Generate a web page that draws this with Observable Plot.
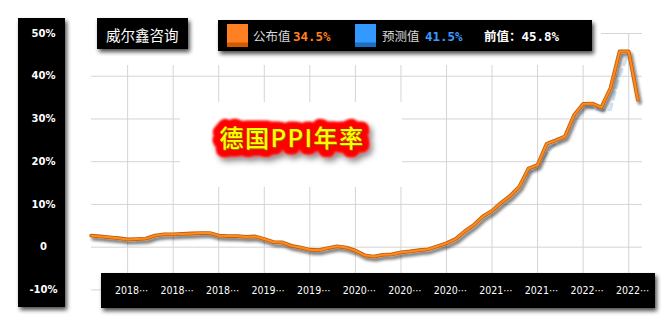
<!DOCTYPE html>
<html><head><meta charset="utf-8">
<script src="https://cdn.jsdelivr.net/npm/d3@7"></script>
<script src="https://cdn.jsdelivr.net/npm/@observablehq/plot@0.6"></script>
<style>body{margin:0;background:#fff}#chart{width:672px;height:327px}</style>
</head><body><div id="chart"></div><script>
// ---- data ----
const startMonth = "2017-10";
const actual = [2.7,2.5,2.3,
  2.1,1.8,1.9,2.0,2.7,3.0,3.0,3.1,3.2,3.3,3.3,2.7,
  2.6,2.6,2.4,2.5,1.9,1.2,1.1,0.3,-0.1,-0.6,-0.7,-0.2,
  0.2,-0.1,-0.8,-1.9,-2.2,-1.8,-1.7,-1.2,-1.0,-0.7,-0.5,0.2,
  0.9,1.9,3.7,5.2,7.2,8.5,10.4,12.0,14.2,18.4,19.2,24.2,
  25.0,25.9,30.9,33.5,33.6,32.7,37.2,45.8,45.8,34.5];
const forecast = [2.7,2.5,2.3,
  2.1,1.8,1.9,2.0,2.7,3.0,3.0,3.1,3.2,3.3,3.3,2.7,
  2.6,2.6,2.4,2.5,1.9,1.2,1.1,0.3,-0.1,-0.6,-0.7,-0.2,
  0.2,-0.1,-0.8,-1.9,-2.2,-1.8,-1.7,-1.2,-1.0,-0.7,-0.5,0.2,
  0.9,1.9,3.7,5.2,7.2,8.5,10.4,12.0,14.2,17.6,18.8,22.0,
  24.3,25.6,30.5,33.3,32.6,32.0,32.2,40.0,45.5];
const yTicks = [-10,0,10,20,30,40,50];
const xTickMonths = ["2018-02","2018-07","2018-12","2019-05","2019-10","2020-03","2020-08","2021-01","2021-06","2021-11","2022-04","2022-09"];
const xTickLabels = ["2018⋯","2018⋯","2018⋯","2019⋯","2019⋯","2020⋯","2020⋯","2020⋯","2021⋯","2021⋯","2022⋯","2022⋯"];
const legendNames = ["公布值","预测值"];
const legendValues = [34.5, 41.5];
const previousValue = 45.8;
const sourceLabel = "威尔鑫咨询";
const titleText = "德国PPI年率";

// ---- build ----
const months = d3.utcMonth.range(new Date(startMonth+"-01"), d3.utcMonth.offset(new Date(startMonth+"-01"), actual.length)).map(d3.utcFormat("%Y-%m"));
const actualData = actual.map((v,i)=>({i, m: months[i], v}));
const forecastData = forecast.map((v,i)=>({i, m: months[i], v}));
const xTickIdx = xTickMonths.map(m=>months.indexOf(m));

const chart = Plot.plot({
  width: 672, height: 327,
  marginLeft: 91, marginRight: 30, marginTop: 33, marginBottom: 37.6,
  style: {background: "#fff", fontFamily: "'Noto Sans CJK SC', sans-serif"},
  x: {type: "linear", domain: [0, actual.length-1], range: [90.7, 637.3], label: null},
  y: {domain: [-10, 50], range: [289.4, 33], label: null},
  marks: [
    Plot.ruleY(yTicks, {y: d=>d, stroke: "#d4d4d4", strokeWidth: 1}),
    Plot.ruleX(xTickIdx, {x: d=>d, y1: -10, y2: 50, stroke: "#d4d4d4", strokeWidth: 1}),
    Plot.line(forecastData, {x: "i", y: "v", stroke: "#cfe3f7", strokeWidth: 3, strokeDasharray: "7,5"}),
    Plot.line(actualData, {x: "i", y: "v", stroke: "#c4600c", strokeWidth: 3.8}),
    Plot.line(actualData, {x: "i", y: "v", stroke: "#ff8a1e", strokeWidth: 2}),
    Plot.axisY(yTicks, {tickSize: 0, tickPadding: 0, dx: -48, textAnchor: "middle", color: "white",
      tickFormat: d => d === 0 ? "0" : d + "%", fontSize: 10, fontWeight: "bold", fontFamily: "DejaVu Sans"}),
    Plot.axisX(xTickIdx, {tickSize: 0, tickPadding: 0, dy: 1, dx: 4, lineAnchor: "middle", color: "white",
      tickFormat: d => xTickLabels[xTickIdx.indexOf(d)], fontSize: 10.5, fontFamily: "DejaVu Sans Condensed"})
  ]
});
document.getElementById("chart").appendChild(chart);

const svg = d3.select(chart);
const defs = svg.insert("defs", ":first-child");
const bf = defs.append("filter").attr("id","boxsh").attr("x","-30%").attr("y","-30%").attr("width","160%").attr("height","160%");
bf.append("feGaussianBlur").attr("in","SourceAlpha").attr("stdDeviation",2.3).attr("result","b");
bf.append("feOffset").attr("in","b").attr("dx",2).attr("dy",2.5).attr("result","o");
bf.append("feComponentTransfer").attr("in","o").attr("result","o2").append("feFuncA").attr("type","linear").attr("slope",0.7);
const bm = bf.append("feMerge"); bm.append("feMergeNode").attr("in","o2"); bm.append("feMergeNode").attr("in","SourceGraphic");

const lf = defs.append("filter").attr("id","lsh").attr("x","-10%").attr("y","-20%").attr("width","120%").attr("height","140%");
lf.append("feGaussianBlur").attr("in","SourceAlpha").attr("stdDeviation",1.4).attr("result","b");
lf.append("feOffset").attr("in","b").attr("dx",1.5).attr("dy",2.5).attr("result","o");
lf.append("feComponentTransfer").attr("in","o").attr("result","o2").append("feFuncA").attr("type","linear").attr("slope",0.55);
const lm = lf.append("feMerge"); lm.append("feMergeNode").attr("in","o2"); lm.append("feMergeNode").attr("in","SourceGraphic");

const tf = defs.append("filter").attr("id","tsh").attr("x","-20%").attr("y","-50%").attr("width","140%").attr("height","200%");
tf.append("feGaussianBlur").attr("in","SourceGraphic").attr("stdDeviation",1.2).attr("result","soft");
tf.append("feGaussianBlur").attr("in","SourceAlpha").attr("stdDeviation",3).attr("result","b");
tf.append("feOffset").attr("in","b").attr("dx",3).attr("dy",4).attr("result","o");
tf.append("feComponentTransfer").attr("in","o").attr("result","o2").append("feFuncA").attr("type","linear").attr("slope",0.5);
const tm = tf.append("feMerge"); tm.append("feMergeNode").attr("in","o2"); tm.append("feMergeNode").attr("in","soft");

// identify line groups (forecast, edge, actual)
const lineGroups = svg.selectAll("g[aria-label='line']").nodes();

// white covers hiding gridlines behind header and title
const covers = svg.insert("g", () => lineGroups[0]);
covers.append("rect").attr("x",86).attr("y",0).attr("width",515).attr("height",65).attr("fill","#fff");
covers.append("rect").attr("x",180).attr("y",102).attr("width",222).attr("height",85).attr("fill","#fff");

d3.select(lineGroups[1]).attr("filter","url(#lsh)");

// black boxes
const boxes = svg.append("g").attr("filter","url(#boxsh)");
boxes.append("rect").attr("x",18).attr("y",18).attr("width",47).attr("height",289).attr("fill","#000");
boxes.append("rect").attr("x",101).attr("y",273).attr("width",554).attr("height",35).attr("fill","#000");
boxes.append("rect").attr("x",97).attr("y",18).attr("width",91).attr("height",31).attr("fill","#000");
boxes.append("rect").attr("x",218).attr("y",20).attr("width",374).attr("height",31).attr("fill","#000");

svg.selectAll("[aria-label='y-axis tick label'],[aria-label='x-axis tick label']").raise();

// source label
svg.append("text").attr("x",106).attr("y",34).attr("dominant-baseline","central").attr("text-anchor","start")
  .attr("fill","#fff").attr("font-size",14.5).attr("font-family","'Noto Sans CJK SC'").text(sourceLabel);

// legend
const lg = svg.append("g").attr("font-family","'Noto Sans CJK SC'").attr("text-anchor","start");
const sw = [{x:227, c:"#ff8022", d:"#d45a00", tc:"#ff7f1e"},{x:355, c:"#3399ff", d:"#1a6fc4", tc:"#3a9cff"}];
const textX = [253, 382], valX = [293, 425];
sw.forEach((s,k)=>{
  lg.append("rect").attr("x",s.x).attr("y",24).attr("width",21).attr("height",23).attr("fill",s.c);
  lg.append("rect").attr("x",s.x).attr("y",42.5).attr("width",21).attr("height",4.5).attr("fill",s.d);
  lg.append("text").attr("x",textX[k]).attr("y",35.5).attr("dominant-baseline","central").attr("fill","#d8d8d8").attr("font-size",12.5).text(legendNames[k]);
  lg.append("text").attr("x",valX[k]).attr("y",36).attr("dominant-baseline","central").attr("fill",s.tc)
    .attr("font-size",12.5).attr("font-weight","bold").attr("font-family","'DejaVu Sans Mono'").text(legendValues[k].toFixed(1)+"%");
});
lg.append("text").attr("x",484).attr("y",36).attr("dominant-baseline","central").attr("fill","#fff")
  .attr("font-size",12.5).attr("font-weight","bold").attr("font-family","'DejaVu Sans Mono','Noto Sans CJK SC'")
  .text("前值：" + previousValue.toFixed(1) + "%");

// title
const tg = svg.append("g").attr("font-family","'Noto Sans CJK SC'").attr("font-size",24).attr("font-weight","500")
  .attr("text-anchor","middle").attr("letter-spacing","1.5px");
tg.append("text").attr("x",292).attr("y",136.5).attr("dominant-baseline","central")
  .attr("fill","#ff0000").attr("stroke","#ff0000").attr("stroke-width",15).attr("stroke-linejoin","round")
  .attr("filter","url(#tsh)").text(titleText);
tg.append("text").attr("x",293).attr("y",137.5).attr("dominant-baseline","central").attr("fill","#8a7a00").text(titleText);
tg.append("text").attr("x",292).attr("y",136.5).attr("dominant-baseline","central").attr("fill","#ffff00").text(titleText);
</script></body></html>
